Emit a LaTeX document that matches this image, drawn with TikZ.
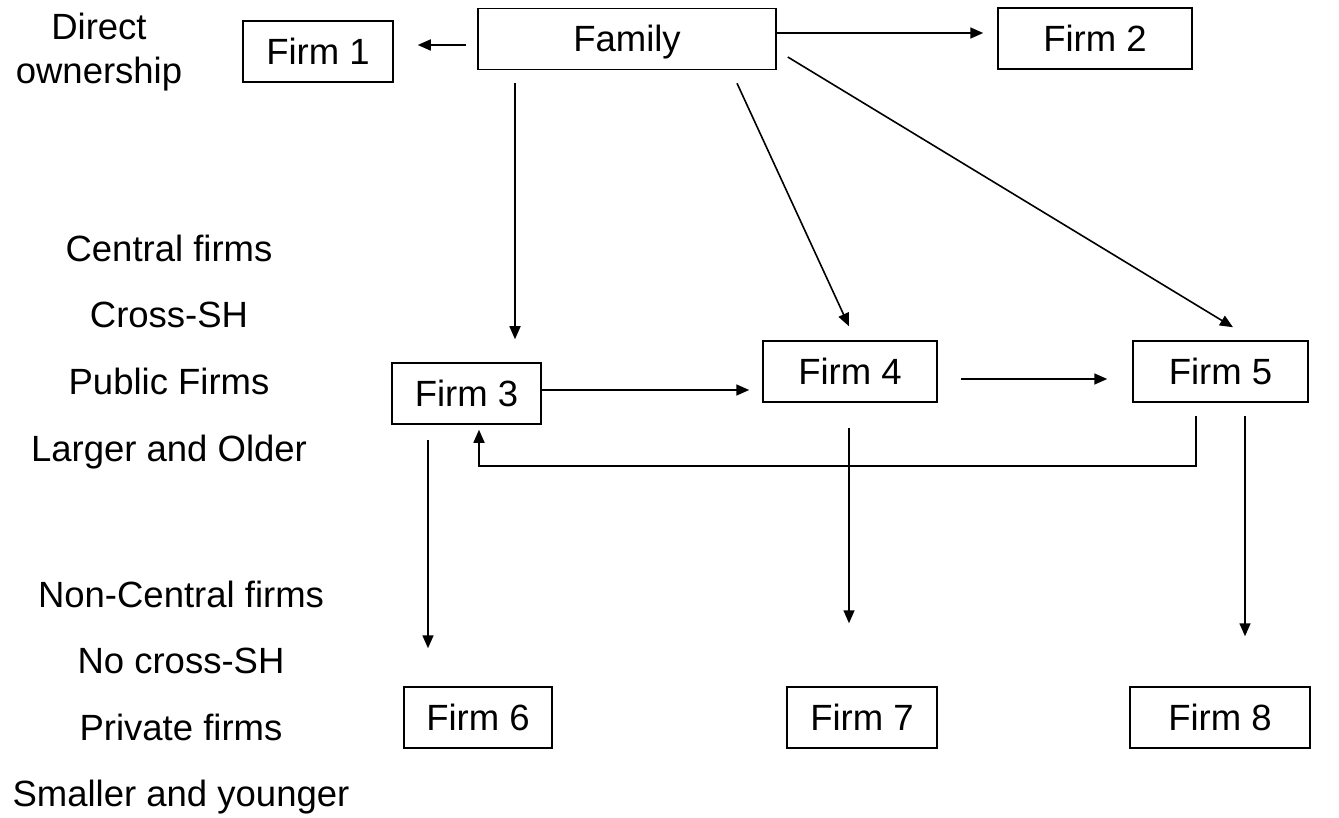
\documentclass[tikz,border=0pt]{standalone}
\usepackage{fontspec}
\setmainfont{Liberation Sans}
\usetikzlibrary{arrows.meta,calc}
\begin{document}
\begin{tikzpicture}[x=1pt,y=-1pt,
  box/.style={draw,line width=1.5pt,minimum height=61pt,inner sep=0pt,text height=26pt,text depth=0pt,font=\fontsize{36.5}{44}\selectfont},
  lbl/.style={anchor=base,inner sep=0pt,font=\fontsize{36.5}{44}\selectfont},
  arr/.style={line width=1.6pt,-{Triangle[length=13pt,width=11pt]}}]
\useasboundingbox (0,0) rectangle (1339,818);
% boxes
\node[box,minimum width=298pt] (fam) at (627,39) {Family};
\node[box,minimum width=150pt] (f1) at (318,51.5) {Firm 1};
\node[box,minimum width=194pt] (f2) at (1095,38.5) {Firm 2};
\node[box,minimum width=149pt] (f3) at (466.5,393.5) {Firm 3};
\node[box,minimum width=174pt] (f4) at (850,371.5) {Firm 4};
\node[box,minimum width=175pt] (f5) at (1220.5,371.5) {Firm 5};
\node[box,minimum width=148pt] (f6) at (478,717.5) {Firm 6};
\node[box,minimum width=150pt] (f7) at (862,717.5) {Firm 7};
\node[box,minimum width=180pt] (f8) at (1220,717.5) {Firm 8};
% labels
\node[lbl] (d1) at (99,40) {Direct};
\node[lbl] (d2) at (99,84) {ownership};
\node[lbl] (c1) at (169,262) {Central firms};
\node[lbl] (c2) at (169,328) {Cross-SH};
\node[lbl] (c3) at (169,395) {Public Firms};
\node[lbl] (c4) at (169,461) {Larger and Older};
\node[lbl] (n1) at (181,607) {Non-Central firms};
\node[lbl] (n2) at (181,673) {No cross-SH};
\node[lbl] (n3) at (181,740) {Private firms};
\node[lbl] (n4) at (181,806) {Smaller and younger};
% connectors
\draw[arr] ($(fam.west)+(-11,6)$) -- ($(f1.east)+(24,-6.5)$);
\draw[arr] ($(fam.east)+(0,-6)$) -- ($(f2.west)+(-14,-5.5)$);
\draw[arr] ($(fam.south)+(-112,13)$) -- ($(f3.north)+(48.5,-23)$);
\draw[arr] ($(fam.south)+(110,13)$) -- ($(f4.north)+(-1,-14)$);
\draw[arr] ($(fam.east)+(11,18)$) -- ($(f5.north)+(12.5,-13)$);
\draw[arr] ($(f3.east)+(0,-3.5)$) -- ($(f4.west)+(-13,18.5)$);
\draw[arr] ($(f4.east)+(23,7.5)$) -- ($(f5.west)+(-25,7.5)$);
\draw[arr] ($(f5.south)+(-24.5,13)$) -- ++(0,50) -| ($(f3.south)+(12.5,5)$);
\draw[arr] ($(f3.south)+(-38.5,15)$) -- ($(f6.north)+(-50,-38)$);
\draw[arr] ($(f4.south)+(-1,25)$) -- ($(f7.north)+(-13,-63)$);
\draw[arr] ($(f5.south)+(24.5,13)$) -- ($(f8.north)+(25,-50)$);
\end{tikzpicture}
\end{document}
